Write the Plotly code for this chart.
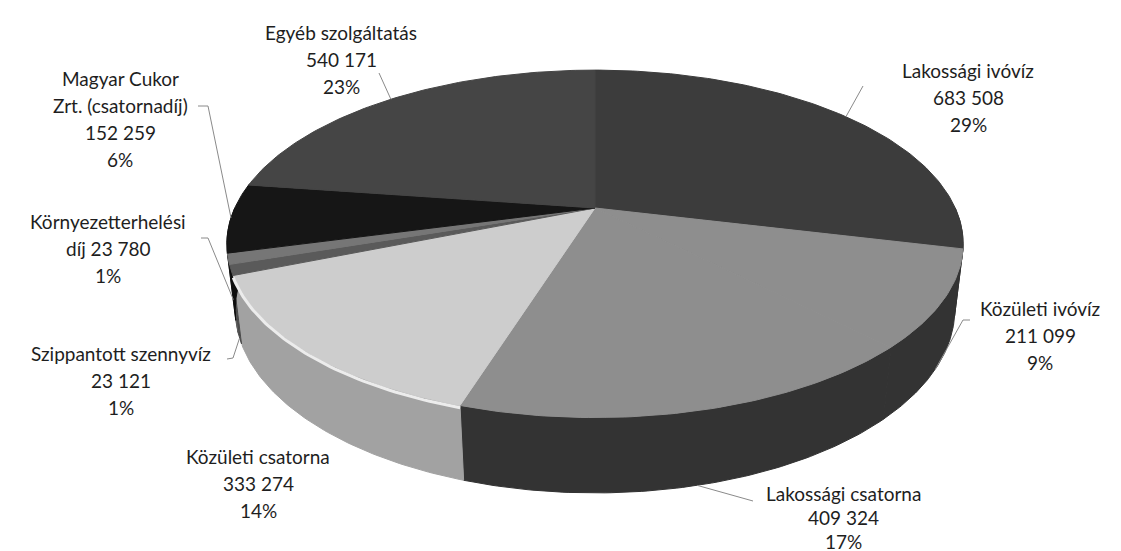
import numpy as np
import plotly.graph_objects as go

# ---------------- data ----------------
categories = ["Lakossági ivóvíz", "Közületi ivóvíz", "Lakossági csatorna", "Közületi csatorna",
              "Szippantott szennyvíz", "Környezetterhelési díj", "Magyar Cukor Zrt. (csatornadíj)",
              "Egyéb szolgáltatás"]
values = [683508, 211099, 409324, 333274, 23121, 23780, 152259, 540171]
# how each data label is broken into lines ({v}=value, {p}=percent)
label_templates = [
    ["Lakossági ivóvíz", "{v}", "{p}"],
    ["Közületi ivóvíz", "{v}", "{p}"],
    ["Lakossági csatorna", "{v}", "{p}"],
    ["Közületi csatorna", "{v}", "{p}"],
    ["Szippantott szennyvíz", "{v}", "{p}"],
    ["Környezetterhelési", "díj {v}", "{p}"],
    ["Magyar Cukor", "Zrt. (csatornadíj)", "{v}", "{p}"],
    ["Egyéb szolgáltatás", "{v}", "{p}"],
]

# ---------------- styles ----------------
top_colors = ["#3c3c3c", "#8e8e8e", "#8e8e8e", "#cdcdcd", "#5a5a5a", "#767676", "#161616", "#454545"]
side_colors = ["#2a2a2a", "#333333", "#333333", "#a2a2a2", "#4a4a4a", "#5e5e5e", "#0e0e0e", "#303030"]
label_pos = [(960, 62), (1032, 300), (835, 485), (250, 448), (113, 345), (100, 213), (112, 70), (333, 24)]
line_gaps = [27, 27, 24, 27, 27, 27, 27, 27]
# leader: (label-side points, height fraction on rim)
leaders = [
    ([(855, 78)], 0.0),
    ([(962, 312), (955, 312)], 1.0),
    ([(745, 493)], 1.0),
    (None, 0.0),
    ([(219, 351), (225, 350)], 1.0),
    ([(193, 230), (200, 230)], 0.6),
    ([(190, 98), (200, 98)], 0.0),
    ([(371, 65)], 0.0),
]

# perspective projection of the 3D disc
CX, CY, F, PHI, DIST, H = 587.0, 200.0, 1549.0, np.radians(27.5), 4.30, 0.207


def proj(theta_deg, hfrac):
    th = np.radians(np.asarray(theta_deg, dtype=float))
    a, b = np.sin(th), np.cos(th)
    h = hfrac * H
    s = b * np.sin(PHI) - h * np.cos(PHI)
    d = DIST + b * np.cos(PHI) + h * np.sin(PHI)
    return CX + F * a / d, CY - F * s / d


total = float(sum(values))
fr = np.array(values) / total
ends = np.cumsum(fr) * 360.0
starts = ends - fr * 360.0

fig = go.Figure()

# side walls (front half only)
for i in range(len(values)):
    t1, t2 = max(starts[i], 90.0), min(ends[i], 270.0)
    if t2 <= t1:
        continue
    th = np.linspace(t1, t2, 80)
    xt, yt = proj(th, 0.0)
    xb, yb = proj(th[::-1], 1.0)
    fig.add_trace(go.Scatter(x=np.concatenate([xt, xb, xt[:1]]), y=np.concatenate([yt, yb, yt[:1]]),
                             mode="lines", fill="toself", fillcolor=side_colors[i],
                             line=dict(color=side_colors[i], width=1), hoverinfo="skip"))

# top faces
for i in range(len(values)):
    th = np.linspace(starts[i], ends[i], max(6, int(fr[i] * 400)))
    xt, yt = proj(th, 0.0)
    xs = np.concatenate([[CX], xt, [CX]])
    ys = np.concatenate([[CY], yt, [CY]])
    fig.add_trace(go.Scatter(x=xs, y=ys, mode="lines", fill="toself", fillcolor=top_colors[i],
                             line=dict(color=top_colors[i], width=1), hoverinfo="skip"))

# light bevel on the light slice rim
i = 3
th = np.linspace(max(starts[i], 90), min(ends[i], 270), 60)
xb, yb = proj(th, 0.03)
fig.add_trace(go.Scatter(x=xb, y=yb, mode="lines", line=dict(color="#ececec", width=3), hoverinfo="skip"))

# leader lines
for i, (pts, hf) in enumerate(leaders):
    if pts is None:
        continue
    mid = (starts[i] + ends[i]) / 2
    px, py = proj(mid, hf)
    xs = [p[0] for p in pts] + [float(px)]
    ys = [p[1] for p in pts] + [float(py)]
    fig.add_trace(go.Scatter(x=xs, y=ys, mode="lines", line=dict(color="#8a8a8a", width=1), hoverinfo="skip"))

# data labels
annotations = []
for i, tmpl in enumerate(label_templates):
    vtxt = f"{values[i]:,}".replace(",", " ")
    ptxt = f"{round(fr[i] * 100):.0f}%"
    x0, y0 = label_pos[i]
    for k, line in enumerate(tmpl):
        annotations.append(dict(x=x0, y=y0 + k * line_gaps[i], xref="x", yref="y", showarrow=False,
                                text=line.format(v=vtxt, p=ptxt), xanchor="center", yanchor="middle",
                                font=dict(family="Lato", size=19, color="#1e1e1e")))

fig.update_layout(
    width=1121, height=551, margin=dict(l=0, r=0, t=0, b=0),
    paper_bgcolor="white", plot_bgcolor="white", showlegend=False,
    xaxis=dict(range=[0, 1121], visible=False, fixedrange=True),
    yaxis=dict(range=[551, 0], visible=False, fixedrange=True),
    annotations=annotations,
)

fig.write_html("out.html")
